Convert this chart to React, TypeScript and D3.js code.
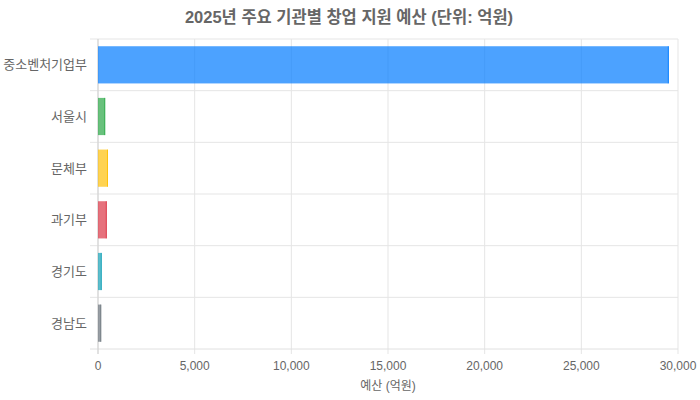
import { useEffect } from "react";
import * as d3 from "d3";

const agencies = ["중소벤처기업부", "서울시", "문체부", "과기부", "경기도", "경남도"];
const budgets = [29500, 350, 490, 430, 170, 145];
const fills = ["#007bff", "#28a745", "#ffc107", "#dc3545", "#17a2b8", "#6c757d"];
const xTicks = [0, 5000, 10000, 15000, 20000, 25000, 30000];

const W = 700;
const H = 400;
const margin = { top: 39, right: 22, bottom: 51, left: 98 };
const font = "'Helvetica Neue', Helvetica, Arial, 'Noto Sans CJK KR', sans-serif";

export default function App() {
	useEffect(() => {
		document.body.style.margin = "0";
	}, []);

	const innerW = W - margin.left - margin.right;
	const innerH = H - margin.top - margin.bottom;

	const x = d3.scaleLinear().domain([0, 30000]).range([0, innerW]);
	const y = d3.scaleBand().domain(agencies).range([0, innerH]);
	const barH = y.bandwidth() * 0.72;
	const fmt = d3.format(",");

	return (
		<svg width={W} height={H} style={{ display: "block", fontFamily: font }}>
			<text x={349} y={23} textAnchor="middle" fontSize={16.5} fontWeight="bold" fill="#666">
				2025년 주요 기관별 창업 지원 예산 (단위: 억원)
			</text>
			<g transform={`translate(${margin.left},${margin.top})`}>
				{/* vertical grid */}
				{xTicks.map(t => (
					<line key={t} x1={x(t)} x2={x(t)} y1={0} y2={innerH + 5} stroke="#e5e5e5" />
				))}
				{/* horizontal grid between categories */}
				{agencies.map(a => (
					<line key={a} x1={-8} x2={innerW} y1={y(a)!} y2={y(a)!} stroke="#e5e5e5" />
				))}
				<line x1={-8} x2={innerW} y1={innerH} y2={innerH} stroke="#e0e0e0" />
				<line x1={0} x2={0} y1={0} y2={innerH + 5} stroke="#d0d0d0" />

				{agencies.map((a, i) => {
					const yc = y(a)! + y.bandwidth() / 2;
					const w = x(budgets[i]);
					return (
						<g key={a}>
							<rect x={0} y={yc - barH / 2} width={w} height={barH} fill={fills[i]} fillOpacity={0.7} />
							<line x1={w} x2={w} y1={yc - barH / 2} y2={yc + barH / 2} stroke={fills[i]} strokeWidth={1} />
							<text x={-11} y={yc} dy="0.35em" textAnchor="end" fontSize={13} fill="#666">{a}</text>
						</g>
					);
				})}

				{xTicks.map(t => (
					<text key={t} x={x(t)} y={innerH + 21} textAnchor="middle" fontSize={12} fill="#666">{fmt(t)}</text>
				))}
				<text x={innerW / 2} y={innerH + 41} textAnchor="middle" fontSize={12} fill="#666">예산 (억원)</text>
			</g>
		</svg>
	);
}
